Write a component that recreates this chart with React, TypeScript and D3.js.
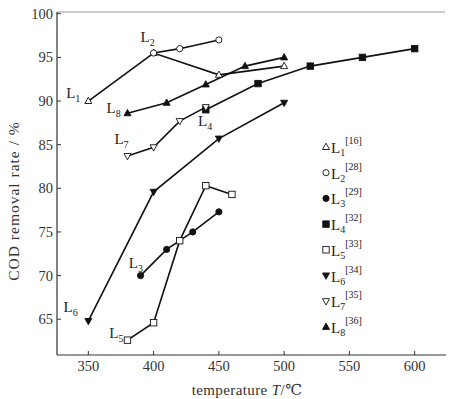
import React from 'react';
import * as d3 from 'd3';

// temperature (°C) / COD removal rate (%)
const L1 = [[350, 90], [400, 95.5], [450, 93], [500, 94]];
const L2 = [[400, 95.5], [420, 96], [450, 97]];
const L3 = [[390, 70], [410, 73], [430, 75], [450, 77.3]];
const L4 = [[440, 89], [480, 92], [520, 94], [560, 95], [600, 96]];
const L5 = [[380, 62.6], [400, 64.6], [420, 74], [440, 80.3], [460, 79.3]];
const L6 = [[350, 64.8], [400, 79.6], [450, 85.7], [500, 89.8]];
const L7 = [[380, 83.7], [400, 84.7], [420, 87.7], [440, 89.3]];
const L8 = [[380, 88.6], [410, 89.8], [440, 91.9], [470, 94], [500, 95]];

const xTicks = [350, 400, 450, 500, 550, 600];
const yTicks = [65, 70, 75, 80, 85, 90, 95, 100];

type Shape = 'triUp' | 'triDown' | 'circle' | 'square';

const seriesList: { name: string; sub: string; ref: string; data: number[][]; shape: Shape; filled: boolean }[] = [
    { name: 'L', sub: '1', ref: '[16]', data: L1, shape: 'triUp', filled: false },
    { name: 'L', sub: '2', ref: '[28]', data: L2, shape: 'circle', filled: false },
    { name: 'L', sub: '3', ref: '[29]', data: L3, shape: 'circle', filled: true },
    { name: 'L', sub: '4', ref: '[32]', data: L4, shape: 'square', filled: true },
    { name: 'L', sub: '5', ref: '[33]', data: L5, shape: 'square', filled: false },
    { name: 'L', sub: '6', ref: '[34]', data: L6, shape: 'triDown', filled: true },
    { name: 'L', sub: '7', ref: '[35]', data: L7, shape: 'triDown', filled: false },
    { name: 'L', sub: '8', ref: '[36]', data: L8, shape: 'triUp', filled: true },
];

// in-plot line labels (data coordinates)
const lineLabels = [
    { sub: '1', t: 333, v: 90.3 },
    { sub: '2', t: 390, v: 96.8 },
    { sub: '3', t: 381, v: 70.9 },
    { sub: '4', t: 434, v: 87.1 },
    { sub: '5', t: 366, v: 62.9 },
    { sub: '6', t: 331, v: 65.8 },
    { sub: '7', t: 370, v: 85.1 },
    { sub: '8', t: 364, v: 88.6 },
];

const FONT = '"Liberation Serif", "DejaVu Serif", serif';

const Marker: React.FC<{ x: number; y: number; shape: Shape; filled: boolean }> = ({ x, y, shape, filled }) => {
    const fill = filled ? '#111' : '#fff';
    const sw = 0.9;
    if (shape === 'circle') return <circle cx={x} cy={y} r={3.1} fill={fill} stroke="#111" strokeWidth={sw} />;
    if (shape === 'square') return <rect x={x - 3.2} y={y - 3.2} width={6.4} height={6.4} fill={fill} stroke="#111" strokeWidth={sw} />;
    const s = shape === 'triUp' ? 1 : -1;
    const pts = [[x, y - 3.8 * s], [x - 3.5, y + 2.5 * s], [x + 3.5, y + 2.5 * s]];
    return <polygon points={pts.map(p => p.join(',')).join(' ')} fill={fill} stroke="#111" strokeWidth={sw} />;
};

export default function App() {
    const width = 453;
    const height = 399;
    const x = d3.scaleLinear().domain([326, 624]).range([57, 446]);
    const y = d3.scaleLinear().domain([60.9, 100.2]).range([355, 12]);
    const line = d3.line<number[]>().x(d => x(d[0])).y(d => y(d[1]));

    return (
        <svg width={width} height={height} style={{ position: 'absolute', left: 0, top: 0, background: '#fff' }} fontFamily={FONT}>
            {/* frame */}
            <line x1={57} x2={445} y1={12} y2={12} stroke="#999" strokeWidth={1.2} />
            <line x1={57} x2={57} y1={12} y2={355} stroke="#333" strokeWidth={1.2} />
            <line x1={57} x2={446} y1={355} y2={355} stroke="#333" strokeWidth={1.2} />

            {xTicks.map(t => (
                <g key={t}>
                    <line x1={x(t)} x2={x(t)} y1={355} y2={351} stroke="#333" />
                    <text x={x(t)} y={371} textAnchor="middle" fontSize={14.5} fill="#333">{t}</text>
                </g>
            ))}
            {yTicks.map(v => (
                <g key={v}>
                    <line x1={57} x2={61} y1={y(v)} y2={y(v)} stroke="#333" />
                    <text x={53} y={y(v)} dy="0.35em" textAnchor="end" fontSize={14.5} fill="#333">{v}</text>
                </g>
            ))}

            <text x={247} y={395} textAnchor="middle" fontSize={15} letterSpacing={0.4} fill="#333">
                temperature <tspan fontStyle="italic">T</tspan>/℃
            </text>
            <text transform="translate(19,201) rotate(-90)" textAnchor="middle" fontSize={15.5} letterSpacing={1} fill="#333">
                COD removal rate / %
            </text>

            {seriesList.map((s, i) => (
                <path key={'l' + i} d={line(s.data) || ''} fill="none" stroke="#111" strokeWidth={1.6} />
            ))}
            {seriesList.map((s, i) => (
                <g key={'m' + i}>
                    {s.data.map((d, j) => (
                        <Marker key={j} x={x(d[0])} y={y(d[1])} shape={s.shape} filled={s.filled} />
                    ))}
                </g>
            ))}

            {lineLabels.map(l => (
                <text key={l.sub} x={x(l.t)} y={y(l.v)} fontSize={15} fill="#222">
                    L<tspan fontSize={10} dy={4}>{l.sub}</tspan>
                </text>
            ))}

            {/* legend */}
            {seriesList.map((s, i) => {
                const ly = 147 + i * 25.7;
                return (
                    <g key={'lg' + i}>
                        <Marker x={326} y={ly} shape={s.shape} filled={s.filled} />
                        <text x={331} y={ly + 6} fontSize={15} fill="#222">
                            {s.name}
                            <tspan fontSize={10} dy={3}>{s.sub}</tspan>
                            <tspan fontSize={10} dy={-12}>{s.ref}</tspan>
                        </text>
                    </g>
                );
            })}
        </svg>
    );
}
